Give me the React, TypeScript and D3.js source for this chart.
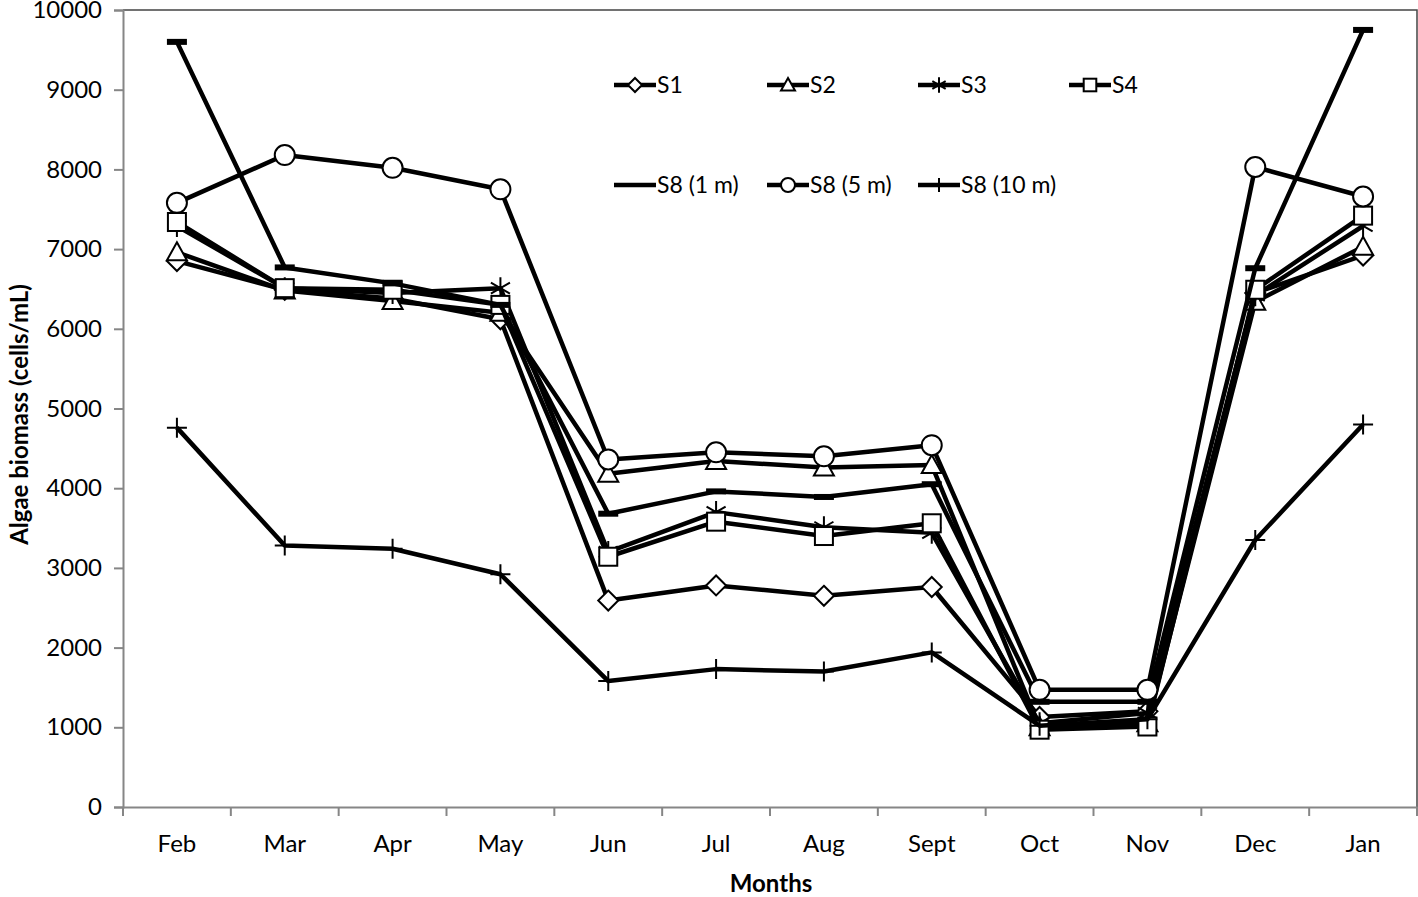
import React, { useEffect, useRef } from 'react';
import * as d3 from 'd3';

// months on the x axis
const months = ['Feb', 'Mar', 'Apr', 'May', 'Jun', 'Jul', 'Aug', 'Sept', 'Oct', 'Nov', 'Dec', 'Jan'];
const yTicks = [0, 1000, 2000, 3000, 4000, 5000, 6000, 7000, 8000, 9000, 10000];

// algae biomass (cells/mL) per station
const s1 = [6850, 6490, 6380, 6120, 2590, 2780, 2650, 2760, 1130, 1200, 6450, 6920];
const s2 = [6960, 6480, 6350, 6200, 4180, 4340, 4260, 4290, 1000, 1050, 6340, 7030];
const s3 = [7290, 6510, 6450, 6510, 3200, 3700, 3510, 3440, 1050, 1180, 6420, 7290];
const s4 = [7340, 6510, 6490, 6300, 3140, 3580, 3400, 3560, 970, 1010, 6490, 7420];
const s8_1m = [9600, 6770, 6570, 6300, 3680, 3960, 3890, 4050, 1320, 1320, 6760, 9750];
const s8_5m = [7580, 8180, 8020, 7750, 4360, 4450, 4400, 4540, 1470, 1470, 8030, 7660];
const s8_10m = [4760, 3280, 3240, 2920, 1580, 1730, 1700, 1940, 1020, 1100, 3350, 4800];

const seriesNames = ['S1', 'S2', 'S3', 'S4', 'S8 (1 m)', 'S8 (5 m)', 'S8 (10 m)'];
const seriesValues = [s1, s2, s3, s4, s8_1m, s8_5m, s8_10m];
const markerTypes = ['diamond', 'triangle', 'asterisk', 'square', 'dash', 'circle', 'plus'];

const FONT = 'Lato, "Open Sans", sans-serif';

const drawMarker = (g, type, x, y, legend = false) => {
  const m = g.append('g').attr('transform', `translate(${x},${y})`);
  const s = legend ? 0.7 : 1;
  const st = (sel) => sel.attr('fill', 'white').attr('stroke', '#000').attr('stroke-width', 2);
  if (type === 'diamond') {
    st(m.append('path').attr('d', `M0,${-10 * s}L${10 * s},0L0,${10 * s}L${-10 * s},0Z`));
  } else if (type === 'triangle') {
    st(m.append('path').attr('d', `M0,${-10 * s}L${10 * s},${8 * s}L${-10 * s},${8 * s}Z`));
  } else if (type === 'square') {
    st(m.append('rect').attr('x', -9 * s).attr('y', -9 * s).attr('width', 18 * s).attr('height', 18 * s));
  } else if (type === 'circle') {
    st(m.append('circle').attr('r', 10 * s));
  } else if (type === 'asterisk') {
    const r = 11 * s;
    const d = [0, 60, 120].map(a => {
      const rad = (a * Math.PI) / 180;
      return `M${r * Math.sin(rad)},${-r * Math.cos(rad)}L${-r * Math.sin(rad)},${r * Math.cos(rad)}`;
    }).join('');
    m.append('path').attr('d', d).attr('stroke', '#000').attr('stroke-width', 2).attr('fill', 'none');
  } else if (type === 'dash') {
    if (!legend) m.append('rect').attr('x', -10).attr('y', -3).attr('width', 20).attr('height', 6).attr('fill', '#000');
  } else if (type === 'plus') {
    const r = 10 * s;
    m.append('path').attr('d', `M0,${-r}L0,${r}M${-r},0L${r},0`).attr('stroke', '#000').attr('stroke-width', 2);
  }
};

const App = () => {
  const svgRef = useRef(null);

  useEffect(() => {
    const W = 1418;
    const H = 897;
    const left = 123;
    const right = 1417;
    const top = 10;
    const bottom = 807;

    const svg = d3.select(svgRef.current);
    svg.selectAll('*').remove();
    svg.attr('width', W).attr('height', H);

    const x = d3.scaleBand().domain(months).range([left, right]);
    const cx = (m) => x(m) + x.bandwidth() / 2;
    const y = d3.scaleLinear().domain([0, 10000]).range([bottom, top]);

    // plot frame (top and right)
    svg.append('path')
      .attr('d', `M${left},${top}H${right}V${bottom}`)
      .attr('fill', 'none')
      .attr('stroke', '#444')
      .attr('stroke-width', 1.5);

    // y axis
    const yAxis = svg.append('g').attr('transform', `translate(${left},0)`)
      .call(d3.axisLeft(y).tickValues(yTicks).tickSize(9).tickPadding(12).tickFormat(d3.format('d')));
    yAxis.select('.domain').attr('stroke', '#868686').attr('stroke-width', 2);
    yAxis.selectAll('.tick line').attr('stroke', '#868686').attr('stroke-width', 2);
    yAxis.selectAll('text').attr('font-family', FONT).attr('font-size', 24).attr('fill', '#000');

    // x axis
    const xAxis = svg.append('g').attr('transform', `translate(0,${bottom})`)
      .call(d3.axisBottom(x).tickSize(0).tickPadding(28));
    xAxis.select('.domain').attr('stroke', '#868686').attr('stroke-width', 2);
    xAxis.selectAll('text').attr('font-family', FONT).attr('font-size', 24).attr('fill', '#000');
    xAxis.selectAll('.boundary')
      .data(d3.range(months.length + 1))
      .enter()
      .append('line')
      .attr('x1', i => left + i * x.step())
      .attr('x2', i => left + i * x.step())
      .attr('y1', 0)
      .attr('y2', 9)
      .attr('stroke', '#868686')
      .attr('stroke-width', 2);

    // axis titles
    svg.append('text')
      .attr('x', (left + right) / 2 + 1)
      .attr('y', 892)
      .attr('text-anchor', 'middle')
      .attr('font-family', FONT)
      .attr('font-weight', 'bold')
      .attr('font-size', 24)
      .text('Months');

    svg.append('text')
      .attr('transform', `translate(28,${(top + bottom) / 2 + 6}) rotate(-90)`)
      .attr('text-anchor', 'middle')
      .attr('font-family', FONT)
      .attr('font-weight', 'bold')
      .attr('font-size', 24)
      .text('Algae biomass (cells/mL)');

    // series
    const line = d3.line().x((d, i) => cx(months[i])).y(d => y(d));
    seriesValues.forEach((vals, k) => {
      const g = svg.append('g');
      g.append('path')
        .attr('d', line(vals))
        .attr('fill', 'none')
        .attr('stroke', '#000')
        .attr('stroke-width', 4.5)
        .attr('stroke-linejoin', 'round');
      vals.forEach((v, i) => drawMarker(g, markerTypes[k], cx(months[i]), y(v)));
    });

    // legend
    const legendX = [614, 767, 918, 1069];
    const legendY = [85, 185];
    seriesNames.forEach((name, k) => {
      const lx = legendX[k % 4];
      const ly = legendY[Math.floor(k / 4)];
      const g = svg.append('g');
      g.append('line')
        .attr('x1', lx).attr('x2', lx + 42)
        .attr('y1', ly).attr('y2', ly)
        .attr('stroke', '#000').attr('stroke-width', 4.5);
      drawMarker(g, markerTypes[k], lx + 21, ly, true);
      g.append('text')
        .attr('x', lx + 43)
        .attr('y', ly + 8)
        .attr('font-family', FONT)
        .attr('font-size', 23)
        .text(name);
    });
  }, []);

  return <svg ref={svgRef} style={{ position: 'absolute', left: 0, top: 0, display: 'block' }}></svg>;
};

export default App;
